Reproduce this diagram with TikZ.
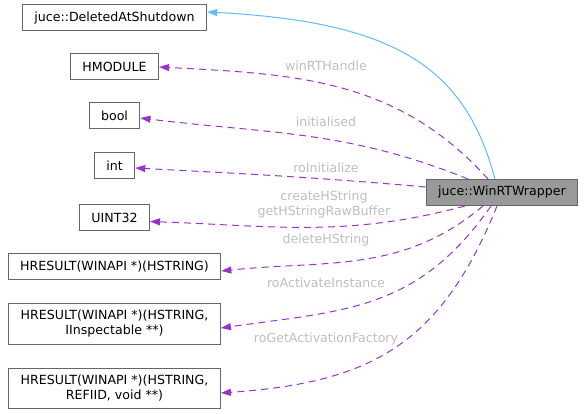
\documentclass[tikz,border=0pt]{standalone}
\usepackage{fontspec}
\setmainfont{DejaVu Sans}
\usetikzlibrary{arrows.meta}
\definecolor{edgeblue}{HTML}{63B8FF}
\definecolor{edgepurple}{HTML}{9A32CD}
\definecolor{boxgray}{HTML}{666666}
\definecolor{fillgray}{HTML}{999999}
\definecolor{lblgray}{HTML}{BEBEBE}

\begin{document}
\begin{tikzpicture}[x=1pt,y=1pt,font=\fontsize{12.6}{15}\selectfont,
  cls/.style={draw=boxgray,line width=1pt,fill=white,inner xsep=12pt,inner ysep=6.5pt,minimum height=26pt,align=center},
  lbl/.style={text=lblgray,align=center,inner sep=0pt},
  inh/.style={draw=edgeblue,line width=1pt,-{Triangle[length=10pt,width=7pt]}},
  use/.style={draw=edgepurple,line width=1pt,dash pattern=on 7pt off 5pt,-{Triangle[length=10pt,width=7pt]}}]
  \useasboundingbox (0,0) rectangle (584,-414);
  \node[cls] (dead) at (114.5,-18) {juce::DeletedAtShutdown};
  \node[cls] (hmod) at (114.5,-67) {HMODULE};
  \node[cls] (boolt) at (114.5,-116) {bool};
  \node[cls] (intt) at (114.5,-166) {int};
  \node[cls] (uint) at (114.5,-218) {UINT32};
  \node[cls] (hstr) at (114.5,-266.5) {HRESULT(WINAPI *)(HSTRING)};
  \node[cls] (hinsp) at (114.5,-324) {HRESULT(WINAPI *)(HSTRING,\\IInspectable **)};
  \node[cls] (hrefiid) at (114.5,-388.5) {HRESULT(WINAPI *)(HSTRING,\\REFIID, void **)};
  \node[cls,fill=fillgray] (wrap) at (502,-192.5) {juce::WinRTWrapper};

  \draw[inh] ([xshift=-7pt]wrap.north) to[out=105,in=-3,out distance=115pt,in distance=190pt] ([yshift=6pt]dead.east);
  \draw[use] ([xshift=-14pt]wrap.north) to[out=132,in=-3] (hmod.east);
  \draw[use] ([xshift=-34pt]wrap.north) to[out=158,in=-7] ([yshift=-2pt]boolt.east);
  \draw[use] ([yshift=5.5pt]wrap.west) to[out=175,in=-3] ([yshift=-2pt]intt.east);
  \draw[use] ([xshift=-37pt]wrap.south) to[out=-165,in=-2] ([yshift=-3.5pt]uint.east);
  \draw[use] ([xshift=-19pt]wrap.south) to[out=-140,in=6] ([yshift=-4.5pt]hstr.east);
  \draw[use] ([xshift=-11pt]wrap.south) to[out=-125,in=8,looseness=1.1] ([yshift=-4pt]hinsp.east);
  \draw[use] ([xshift=-5pt]wrap.south) to[out=-112,in=4,looseness=1.15] ([yshift=-4.5pt]hrefiid.east);

  \node[lbl] (lwin) at (326,-66) {winRTHandle};
  \node[lbl] (linit) at (326,-122) {initialised};
  \node[lbl] (lroinit) at (326,-168) {roInitialize};
  \node[lbl] (lcreate) at (324,-205) {createHString\\getHStringRawBuffer};
  \node[lbl] (ldel) at (326,-240) {deleteHString};
  \node[lbl] (lact) at (326,-283) {roActivateInstance};
  \node[lbl] (lfact) at (326,-339) {roGetActivationFactory};
\end{tikzpicture}
\end{document}
